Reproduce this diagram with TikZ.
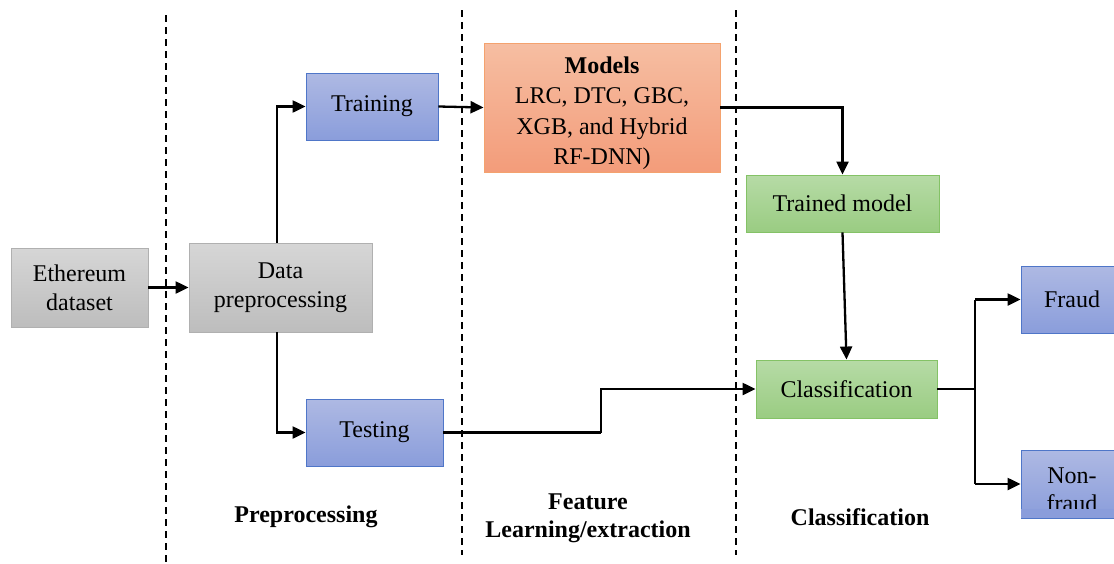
\documentclass[tikz,border=0pt]{standalone}
\usepackage{fontspec}
\setmainfont{Liberation Serif}
\usetikzlibrary{arrows.meta,calc}
\definecolor{grayT}{HTML}{D6D6D6}
\definecolor{grayB}{HTML}{BDBDBD}
\definecolor{grayE}{HTML}{B0B0B0}
\definecolor{blueT}{HTML}{AEB9E3}
\definecolor{blueB}{HTML}{8A9DDB}
\definecolor{blueE}{HTML}{4F76C8}
\definecolor{orT}{HTML}{F6BEA2}
\definecolor{orB}{HTML}{F39C7A}
\definecolor{orE}{HTML}{F4A26E}
\definecolor{grT}{HTML}{B6DBA6}
\definecolor{grB}{HTML}{9ACC82}
\definecolor{grE}{HTML}{84C266}
\tikzset{
  base/.style={align=center, inner sep=2pt, font=\fontsize{24}{29}\selectfont, line width=0.9pt},
  graybox/.style={base, top color=grayT, bottom color=grayB, draw=grayE},
  bluebox/.style={base, top color=blueT, bottom color=blueB, draw=blueE},
  orbox/.style={base, top color=orT, bottom color=orB, draw=orE},
  grbox/.style={base, top color=grT, bottom color=grB, draw=grE},
  arr/.style={line width=2.3pt, -{Triangle[length=13pt,width=12pt]}},
  plainline/.style={line width=2.3pt},
  thinline/.style={line width=1.2pt},
  sep/.style={line width=1.4pt, dash pattern=on 7pt off 5pt},
  phase/.style={align=center, font=\fontsize{24}{28}\selectfont\bfseries},
  txt/.style={align=center, inner sep=0pt, font=\fontsize{24}{28}\selectfont},
}
\begin{document}
\begin{tikzpicture}[x=1pt,y=-1pt]
\useasboundingbox (0,0) rectangle (1114,563);
% separators
\draw[sep] (166,15) -- (166,563);
\draw[sep] (462,10) -- (462,555);
\draw[sep] (736,10) -- (736,555);
% nodes
\node[graybox, minimum width=137pt, minimum height=79pt] (eth) at (79.5,287.5) {Ethereum\\dataset};
\node[graybox, minimum width=183pt, minimum height=89pt] (dp) at (280.5,287.5) {Data\\preprocessing};
\node[bluebox, minimum width=132pt, minimum height=67pt] (train) at (372,106.5) {Training};
\node[bluebox, minimum width=137pt, minimum height=67pt] (test) at (374.5,432.5) {Testing};
\node[orbox, minimum width=236pt, minimum height=129pt] (models) at (602,107.5) {};
\node[txt, font=\fontsize{24}{30.5}\selectfont] (modelstxt) at (602,113) {\textbf{Models}\\LRC, DTC, GBC,\\XGB, and Hybrid\\RF-DNN)};
\node[grbox, minimum width=193pt, minimum height=57pt] (trained) at (842.5,203.5) {Trained model};
\node[grbox, minimum width=181pt, minimum height=58pt] (class) at (846.5,389) {Classification};
\node[bluebox, minimum width=102pt, minimum height=67pt] (fraud) at (1072,299.5) {Fraud};
\node[bluebox, minimum width=102pt, minimum height=68pt] (nonfraud) at (1072,484) {};
\node[txt] (nonfraudtxt) at (1072,490) {Non-\\fraud};
\fill[blueB] ([xshift=0.5pt,yshift=9pt]nonfraud.south west) rectangle ([xshift=-0.5pt,yshift=0.5pt]nonfraud.south east);
% phase labels
\node[phase] (p1) at (306,517) {Preprocessing};
\node[phase] (p2) at (588,518) {Feature\\Learning/extraction};
\node[phase] (p3) at (860,517) {Classification};
% connectors
\coordinate (dptop) at (277,243);
\coordinate (dpbot) at (277,332);
\coordinate (step1) at (601,432.5);
\coordinate (fork) at (975,389);
\draw[arr] (eth.east) -- (dp.west);
\draw[arr] (dptop) |- (train.west);
\draw[arr] (dpbot) |- (test.west);
\draw[arr] (train.east) -- (models.west);
\draw[arr] (models.east) -| (trained.north);
\draw[arr] (trained.south) -- (class.north);
\draw[plainline] (test.east) -- (step1);
\draw[arr] (step1) |- (class.west);
\draw[thinline] (class.east) -- (fork);
\draw[thinline] (fork |- fraud.west) -- (fork |- nonfraud.west);
\draw[arr] (fork |- fraud.west) -- (fraud.west);
\draw[arr] (fork |- nonfraud.west) -- (nonfraud.west);
\end{tikzpicture}
\end{document}
